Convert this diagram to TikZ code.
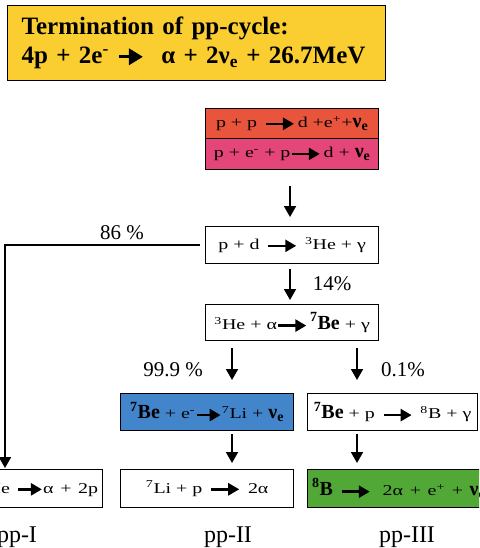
\documentclass[tikz,border=0pt]{standalone}
\usepackage{fontspec}
\usepackage{graphicx}
\setmainfont{Liberation Serif}
\usetikzlibrary{arrows.meta}
\definecolor{cyellow}{RGB}{250,206,48}
\definecolor{cred}{RGB}{233,84,60}
\definecolor{cpink}{RGB}{228,70,122}
\definecolor{cblue}{RGB}{66,133,203}
\definecolor{cgreen}{RGB}{82,168,54}
\newcommand\rarr[1][28pt]{\tikz[baseline=-3.8pt]\draw[line width=2.6pt,-{Triangle[length=11pt,width=12pt]}] (0,0)--(#1,0);}
\newcommand\sx[1]{\scalebox{1.33}[1]{#1}}
\newcommand\bg{\fontsize{20}{20}\selectfont\bfseries}
\newcommand\nue{{\bg ν\textsubscript{e}}}
\newcommand\sbe{{\bg\textsuperscript{7}Be}}
\begin{document}
\begin{tikzpicture}[x=1pt,y=-1pt,
  rbox/.style={draw,line width=1.3pt,inner sep=0pt,anchor=north west,
    minimum width=173pt,minimum height=37pt,font=\fontsize{15}{16}\selectfont},
  arr/.style={line width=1.8pt,-{Triangle[length=11pt,width=12pt]}},
  lab/.style={font=\fontsize{21}{21}\selectfont,inner sep=0pt}]
\path[use as bounding box] (0,0) rectangle (479,548);
\clip (0,0) rectangle (479,548);
% title
\node[draw,line width=1.3pt,fill=cyellow,anchor=north west,minimum width=373pt,minimum height=75pt,
  align=left,text width=350pt,inner xsep=14pt,font=\bfseries\fontsize{25}{29}\selectfont] (title) at (7,5)
  {Termination of pp-cycle:\\ 4p + 2e\textsuperscript{-} \tikz[baseline=-7pt]\draw[line width=3.4pt,-{Triangle[length=14pt,width=16pt]}] (0,0)--(24pt,0); \ α + 2ν\textsubscript{e} + 26.7MeV};
% pp chain start
\node[rbox,fill=cred,minimum height=30pt] (pp) at (205,108)
  {\sx{p + p }\,\rarr\,\sx{d +e\textsuperscript{+}+}\nue};
\node[rbox,fill=cpink,minimum height=31pt] (pep) at (205,138)
  {\sx{p + e\textsuperscript{-} + p}\rarr\,\sx{d + }\nue};
\node[rbox] (pd) at (205,226) {\sx{p + d }\,\rarr\,\sx{ \textsuperscript{3}He + γ}};
\node[rbox,minimum height=36pt] (hea) at (205,304) {\sx{\textsuperscript{3}He + α}\rarr\,\sbe{}\sx{ + γ}};
\node[rbox,fill=cblue] (bee) at (120,393) {\sbe{}\sx{ + e\textsuperscript{-}}\rarr[24pt]\sx{\textsuperscript{7}Li + }\nue};
\node[rbox,minimum width=170pt] (bep) at (307,393) {\sbe{}\sx{ + p }\,\rarr\,\sx{ \textsuperscript{8}B + γ}};
\node[rbox,minimum height=38pt] (lip) at (120,469) {\sx{\textsuperscript{7}Li + p }\,\rarr\,\sx{ 2α}};
\node[rbox,fill=cgreen,minimum width=190pt,minimum height=38pt,align=left,text width=186pt] (b8) at (307,469)
  {\,{\bg\textsuperscript{8}B}\, \rarr\ \sx{ 2α + e\textsuperscript{+} + }\nue};
\node[rbox,minimum width=190pt,minimum height=38pt,align=right,text width=186pt] (hehe) at (-88,469)
  {\sx{\textsuperscript{3}He + \textsuperscript{3}He }\rarr[24pt]\sx{α + 2p}\,};
% column coordinates
\coordinate (colI) at (5,0);
\coordinate (colII) at (232,0);
\coordinate (colIII) at (357,0);
% connectors
\draw[arr,shorten <=16pt,shorten >=9pt] (pep.south -| 290,0) -- (pd.north -| 290,0);
\draw[arr,shorten <=5pt,shorten >=4pt] (pd.south -| 290,0) -- (hea.north -| 290,0);
\draw[arr,shorten <=5pt,shorten >=1pt] (pd.west) -| (hehe.north -| colI);
\draw[arr,shorten <=7pt,shorten >=13pt] (hea.south -| colII) -- (bee.north -| colII);
\draw[arr,shorten <=7pt,shorten >=13pt] (hea.south -| colIII) -- (bep.north -| colIII);
\draw[arr,shorten <=3pt,shorten >=6pt] (bee.south -| colII) -- (lip.north -| colII);
\draw[arr,shorten <=3pt,shorten >=6pt] (bep.south -| colIII) -- (b8.north -| colIII);
% labels
\node[lab] (l86) at (122,233) {86 \%};
\node[lab] (l14) at (332,284) {14\%};
\node[lab] (l999) at (173,370) {99.9 \%};
\node[lab] (l01) at (403,370) {0.1\%};
\node[lab,font=\fontsize{24}{24}\selectfont] (p1) at (17,537) {pp-I};
\node[lab,font=\fontsize{24}{24}\selectfont] (p2) at (228,537) {pp-II};
\node[lab,font=\fontsize{24}{24}\selectfont] (p3) at (407,537) {pp-III};
\end{tikzpicture}
\end{document}
